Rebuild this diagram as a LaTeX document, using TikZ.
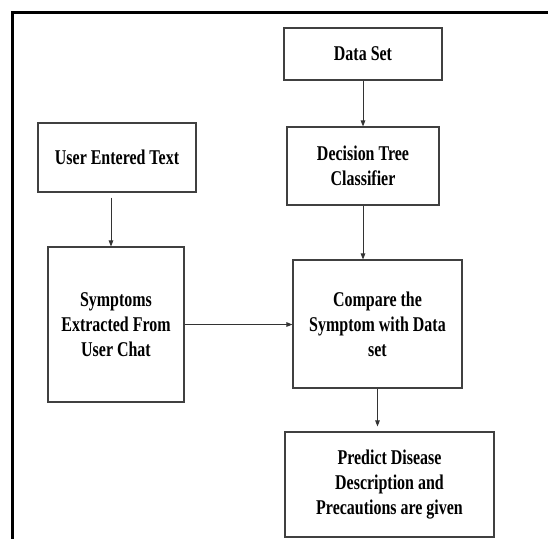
\documentclass[tikz,border=0pt]{standalone}
\usepackage{fontspec}
\setmainfont{Liberation Serif}[FakeStretch=0.76]
\usetikzlibrary{arrows.meta}

\tikzset{
  box/.style={draw=black!75, line width=1.1pt, align=center, inner sep=0pt,
    font=\fontsize{21}{25}\selectfont\bfseries},
  flow/.style={draw=black!80, line width=0.9pt, -{Triangle[length=6pt,width=4.5pt]}}
}

\begin{document}
\begin{tikzpicture}[x=1pt,y=-1pt]
\useasboundingbox (0,0) rectangle (548,539);
% frame
\draw [line width=3pt] (11,12.5) -- (548,12.5);
\draw [line width=3pt] (12.5,11) -- (12.5,539);
% boxes
\node [box, minimum width=158pt, minimum height=52pt] (data) at (363,54) {Data Set};
\node [box, minimum width=152pt, minimum height=78pt] (tree) at (363,166) {Decision Tree\\Classifier};
\node [box, minimum width=158pt, minimum height=69pt] (user) at (117,157.5) {User Entered Text};
\node [box, minimum width=136pt, minimum height=155pt] (symp) at (116,324.5) {Symptoms\\Extracted From\\User Chat};
\node [box, minimum width=169pt, minimum height=128pt] (comp) at (377.5,324) {Compare the\\Symptom with Data\\set};
\node [box, minimum width=209pt, minimum height=105pt] (pred) at (389.5,484.5) {Predict Disease\\Description and\\Precautions are given};
% arrows
\draw [flow] (data) -- (tree);
\draw [flow, shorten <=5pt] ([xshift=-6pt]user.south) -- ([xshift=-6pt]user.south |- symp.north);
\draw [flow] (tree) -- (tree.south |- comp.north);
\draw [flow] (symp.east) -- (symp.east -| comp.west);
\draw [flow, shorten >=5pt] (comp.south) -- (comp.south |- pred.north);
\end{tikzpicture}
\end{document}
